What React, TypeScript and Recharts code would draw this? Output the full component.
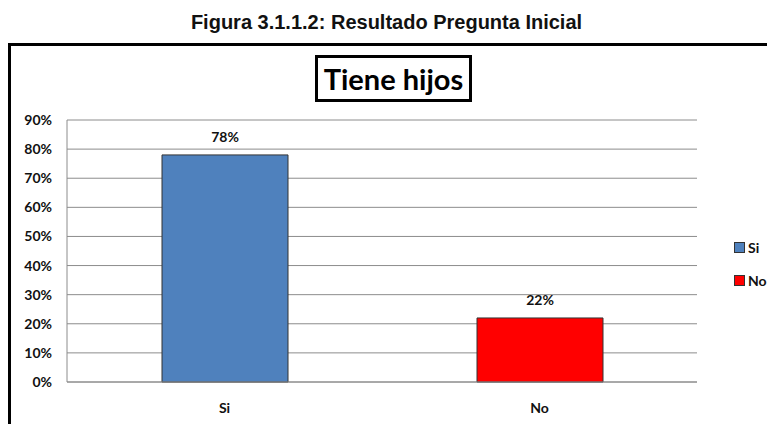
import { BarChart, Bar, XAxis, YAxis, CartesianGrid, LabelList, Cell } from "recharts";

const categories = ["Si", "No"];
const percentages = [78, 22];
const barColors = ["#4F81BD", "#FF0000"];
const yTicks = [0, 10, 20, 30, 40, 50, 60, 70, 80, 90];

const chartData = categories.map((c, i) => ({ name: c, value: percentages[i] }));

const labelFont = "Lato, 'Open Sans', sans-serif";

export default function App() {
  return (
    <div
      style={{
        position: "fixed",
        left: 0,
        top: 0,
        width: 767,
        height: 424,
        overflow: "hidden",
        background: "#fff",
      }}
    >
      <div
        style={{
          position: "absolute",
          top: 11,
          left: 0,
          width: 773,
          textAlign: "center",
          fontFamily: "'Liberation Sans', Arial, sans-serif",
          fontWeight: "bold",
          fontSize: 20,
          color: "#111",
        }}
      >
        Figura 3.1.1.2: Resultado Pregunta Inicial
      </div>
      <div
        style={{
          position: "absolute",
          top: 43,
          left: 8,
          width: 800,
          height: 420,
          border: "3px solid #000",
          boxSizing: "border-box",
        }}
      />
      <div
        style={{
          position: "absolute",
          top: 55,
          left: 315,
          width: 157,
          height: 47,
          border: "3px solid #000",
          boxSizing: "border-box",
          display: "flex",
          alignItems: "center",
          justifyContent: "center",
          fontFamily: labelFont,
          fontWeight: "bold",
          fontSize: 29,
          color: "#000",
        }}
      >
        Tiene hijos
      </div>
      <div style={{ position: "absolute", top: 0, left: 8 }}>
        <BarChart
          width={759}
          height={416}
          data={chartData}
          margin={{ top: 120, right: 70, bottom: 4, left: 0 }}
          barCategoryGap="30%"
        >
          <CartesianGrid vertical={false} stroke="#8c8c8c" />
          <XAxis
            dataKey="name"
            axisLine={{ stroke: "#8c8c8c" }}
            tickLine={false}
            tickMargin={15}
            tick={{ fontSize: 14, fontWeight: "bold", fill: "#111", fontFamily: labelFont }}
          />
          <YAxis
            width={59}
            domain={[0, 90]}
            ticks={yTicks}
            interval={0}
            tickFormatter={(v: number) => `${v}%`}
            axisLine={{ stroke: "#8c8c8c" }}
            tickLine={false}
            tickMargin={9}
            tick={{ fontSize: 14, fontWeight: "bold", fill: "#111", fontFamily: labelFont }}
          />
          <Bar dataKey="value" barSize={126} stroke="#333" strokeWidth={1} isAnimationActive={false}>
            {chartData.map((d, i) => (
              <Cell key={d.name} fill={barColors[i]} />
            ))}
            <LabelList
              dataKey="value"
              position="top"
              offset={13}
              formatter={(v: number) => `${v}%`}
              style={{ fontSize: 14, fontWeight: "bold", fill: "#111", fontFamily: labelFont }}
            />
          </Bar>
        </BarChart>
      </div>
      <div
        style={{
          position: "absolute",
          left: 734,
          top: 238,
          fontFamily: labelFont,
          fontWeight: "bold",
          fontSize: 14,
          color: "#111",
        }}
      >
        {categories.map((c, i) => (
          <div key={c} style={{ display: "flex", alignItems: "center", height: 18, marginBottom: i === 0 ? 15 : 0 }}>
            <span
              style={{
                display: "inline-block",
                width: 9,
                height: 9,
                background: barColors[i],
                border: "1px solid #333",
                marginRight: 3,
              }}
            />
            {c}
          </div>
        ))}
      </div>
    </div>
  );
}
